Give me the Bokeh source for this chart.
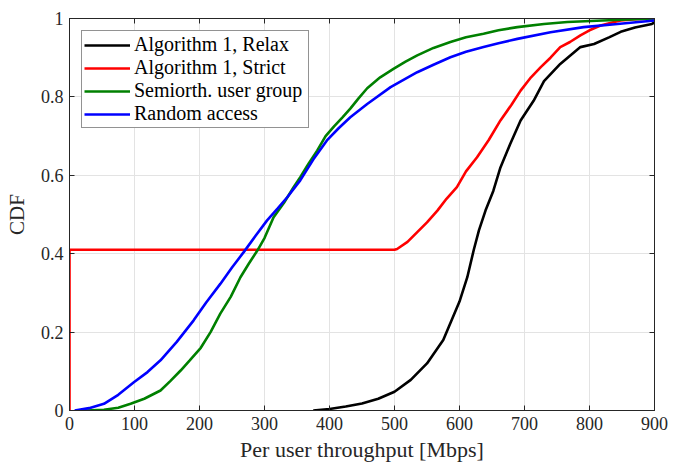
from bokeh.plotting import figure
from bokeh.models import Range1d, LinearAxis, FixedTicker, CustomJSTickFormatter
from bokeh.embed import file_html
from bokeh.resources import INLINE

# ---- data ----
relax_x = [375, 400, 425, 450, 475, 500, 525, 550, 575, 600, 612, 622, 630, 640, 652, 663,
           678, 694, 714, 730, 755, 786, 807, 830, 848, 870, 896, 900]
relax_y = [0, 0.004, 0.01, 0.018, 0.03, 0.048, 0.078, 0.12, 0.18, 0.278, 0.34, 0.41, 0.46,
           0.51, 0.56, 0.62, 0.68, 0.74, 0.79, 0.84, 0.884, 0.927, 0.935, 0.952, 0.966,
           0.977, 0.986, 0.99]

strict_x = [0, 0, 500, 504, 520, 535, 550, 566, 580, 596, 610, 627, 645, 663, 680, 694, 710,
            725, 740, 755, 770, 786, 800, 817, 835, 848, 870, 900]
strict_y = [0, 0.41, 0.41, 0.412, 0.43, 0.455, 0.48, 0.51, 0.54, 0.57, 0.61, 0.646, 0.69,
            0.74, 0.78, 0.816, 0.85, 0.876, 0.90, 0.927, 0.94, 0.957, 0.97, 0.982, 0.99,
            0.995, 0.998, 1.0]

semi_x = [25, 53, 75, 94, 115, 140, 155, 171, 185, 202, 217, 232, 248, 263, 276, 289, 300,
          314, 330, 345, 355, 368, 381, 394, 407, 420, 432, 445, 458, 478, 499, 517, 535,
          560, 586, 610, 637, 660, 689, 730, 766, 820, 900]
semi_y = [0, 0.002, 0.007, 0.017, 0.03, 0.051, 0.075, 0.102, 0.128, 0.16, 0.2, 0.247, 0.29,
          0.34, 0.375, 0.408, 0.44, 0.493, 0.53, 0.57, 0.595, 0.63, 0.663, 0.7, 0.725, 0.748,
          0.77, 0.797, 0.822, 0.85, 0.872, 0.89, 0.906, 0.925, 0.94, 0.952, 0.961, 0.97,
          0.978, 0.986, 0.991, 0.995, 1.0]

rand_x = [8, 30, 53, 75, 99, 120, 140, 165, 191, 210, 232, 250, 268, 286, 304, 320, 335, 355,
          375, 396, 414, 432, 458, 494, 535, 560, 586, 610, 637, 660, 689, 740, 791, 843, 900]
rand_y = [0, 0.006, 0.017, 0.04, 0.072, 0.098, 0.128, 0.175, 0.23, 0.275, 0.323, 0.365,
          0.404, 0.445, 0.485, 0.515, 0.544, 0.587, 0.64, 0.689, 0.72, 0.748, 0.782, 0.825,
          0.863, 0.882, 0.901, 0.915, 0.927, 0.937, 0.948, 0.965, 0.978, 0.986, 0.995]

series_labels = ["Algorithm 1, Relax", "Algorithm 1, Strict", "Semiorth. user group", "Random access"]
series_colors = ["#000000", "#ff0000", "#008000", "#0000ff"]

x_ticks = [0, 100, 200, 300, 400, 500, 600, 700, 800, 900]
y_ticks = [0, 0.2, 0.4, 0.6, 0.8, 1]
x_title = "Per user throughput [Mbps]"
y_title = "CDF"

FONT = "'Liberation Serif'"
AX = "#262626"

p = figure(width=683, height=464, output_backend="svg", toolbar_location=None,
           x_range=Range1d(0, 900), y_range=Range1d(0, 1),
           min_border_left=69, min_border_right=29, min_border_top=18, min_border_bottom=54)
p.background_fill_color = "white"
p.border_fill_color = "white"
p.outline_line_color = AX
p.outline_line_width = 1

fmt = CustomJSTickFormatter(code="return String(Math.round(tick*10)/10);")
blank = CustomJSTickFormatter(code="return '';")

def style_axis(ax, ticks, formatter, show_labels=True):
    ax.ticker = FixedTicker(ticks=ticks)
    ax.formatter = formatter
    ax.axis_line_color = AX
    ax.major_tick_line_color = AX
    ax.major_tick_in = 5
    ax.major_tick_out = 0
    ax.minor_tick_line_color = None
    ax.major_label_text_font = FONT
    ax.major_label_text_font_size = "18px"
    ax.major_label_text_color = "#262626"
    ax.major_label_standoff = 6
    ax.axis_label_text_font = FONT
    ax.axis_label_text_font_size = "22px"
    ax.axis_label_text_font_style = "normal"
    ax.axis_label_text_color = "#262626"
    if not show_labels:
        ax.major_label_standoff = 0
        ax.major_label_text_font_size = "1px"

style_axis(p.xaxis[0], x_ticks, fmt)
style_axis(p.yaxis[0], y_ticks, fmt)
p.xaxis[0].axis_label = x_title
p.yaxis[0].axis_label = y_title
p.xaxis[0].axis_label_standoff = 4
p.yaxis[0].axis_label_standoff = 9
p.yaxis[0].axis_label_text_font_size = "21px"

top = LinearAxis()
right = LinearAxis()
style_axis(top, x_ticks, blank, False)
style_axis(right, y_ticks, blank, False)
p.add_layout(top, "above")
p.add_layout(right, "right")

p.xgrid.ticker = FixedTicker(ticks=x_ticks)
p.ygrid.ticker = FixedTicker(ticks=y_ticks)
p.xgrid.grid_line_color = "#e3e3e3"
p.ygrid.grid_line_color = "#e3e3e3"
p.xgrid.grid_line_width = 1
p.ygrid.grid_line_width = 1

xs = [relax_x, strict_x, semi_x, rand_x]
ys = [relax_y, strict_y, semi_y, rand_y]
for x, y, lab, col in zip(xs, ys, series_labels, series_colors):
    p.line(x, y, line_color=col, line_width=2.6, legend_label=lab)

lg = p.legend[0]
lg.location = "top_left"
lg.margin = 12
lg.padding = 2
lg.spacing = 0
lg.label_height = 20
lg.label_width = 172
lg.glyph_height = 20
lg.glyph_width = 46
lg.label_standoff = 4
lg.label_text_font = FONT
lg.label_text_font_size = "20px"
lg.label_text_color = "#000000"
lg.border_line_color = AX
lg.border_line_width = 1
lg.background_fill_color = "white"
lg.background_fill_alpha = 1

open("out.html", "w").write(file_html(p, INLINE))
